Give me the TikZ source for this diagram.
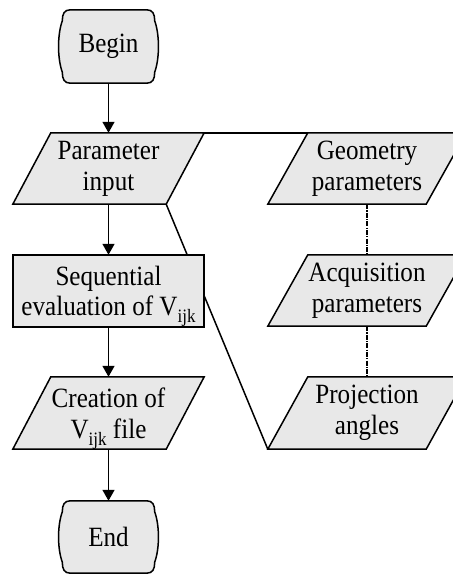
\documentclass[tikz,border=0pt]{standalone}
\usepackage{fontspec}
\setmainfont[FakeStretch=0.9]{Liberation Serif}
\usetikzlibrary{arrows.meta,calc}
\pgfdeclarelayer{lines}
\pgfdeclarelayer{shapes}
\pgfsetlayers{lines,shapes,main}
\definecolor{boxfill}{RGB}{232,232,232}
\tikzset{
  every node/.style={font=\fontsize{28}{31}\selectfont, inner sep=0pt, align=center},
  outline/.style={draw=black, line width=1.5bp, fill=boxfill},
  conn/.style={line width=1.5bp},
  arr/.style={conn, -{Triangle[width=12bp,length=11bp]}},
  dotline/.style={line width=2.2bp, dash pattern=on 5bp off 1.2bp on 1.2bp off 1.2bp},
}
\newcommand\subidx[1]{\smash{\raisebox{-7bp}{\fontsize{19}{19}\selectfont #1}}}
\newcommand\parashape[2]{%
  \path[outline] ($(#2.north west)+(#1,0)$) -- (#2.north east) -- ($(#2.south east)-(#1,0)$) -- (#2.south west) -- cycle;}
\newcommand\termshape[1]{%
  \path[outline] ($(#1.north west)+(12,0)$) -- ($(#1.north east)+(-12,0)$)
    .. controls ($(#1.north east)+(-6,0)$) and ($(#1.north east)+(-4,4)$) .. ($(#1.north east)+(-4,11)$)
    .. controls ($(#1.north east)+(1,25)$) and ($(#1.south east)+(1,-25)$) .. ($(#1.south east)+(-4,-11)$)
    .. controls ($(#1.south east)+(-4,-4)$) and ($(#1.south east)+(-6,0)$) .. ($(#1.south east)+(-12,0)$)
    -- ($(#1.south west)+(12,0)$)
    .. controls ($(#1.south west)+(6,0)$) and ($(#1.south west)+(4,-4)$) .. ($(#1.south west)+(4,-11)$)
    .. controls ($(#1.south west)+(-1,-25)$) and ($(#1.north west)+(-1,25)$) .. ($(#1.north west)+(4,11)$)
    .. controls ($(#1.north west)+(4,4)$) and ($(#1.north west)+(6,0)$) .. ($(#1.north west)+(12,0)$) -- cycle;}
\begin{document}
\begin{tikzpicture}[x=1bp,y=-1bp]
\useasboundingbox (0,0) rectangle (453,574);
\clip (0,0) rectangle (453,574);
% nodes
\node[minimum width=100bp, minimum height=73bp] (begin) at (108.5,46.5) {Begin};
\node[minimum width=191bp, minimum height=71bp] (pin) at (108.5,168.5) {Parameter\\input};
\node[minimum width=191bp, minimum height=72bp] (seq) at (108.5,291) {Sequential\\evaluation of V\subidx{ijk}};
\node[minimum width=191bp, minimum height=72bp] (cre) at (108.5,413) {Creation of\\V\subidx{ijk} file};
\node[minimum width=100bp, minimum height=72bp] (end) at (108.5,537) {End};
\node[minimum width=198bp, minimum height=71bp] (geo) at (367,168.5) {Geometry\\parameters};
\node[minimum width=198bp, minimum height=71bp] (acq) at (367,290.5) {Acquisition\\parameters};
\node[minimum width=198bp, minimum height=72bp] (proj) at (367,413) {Projection\\angles};
% shapes
\begin{pgfonlayer}{shapes}
  \termshape{begin}
  \termshape{end}
  \parashape{38}{pin}
  \path[outline] (seq.north west) rectangle (seq.south east);
  \parashape{38}{cre}
  \parashape{40}{geo}
  \parashape{40}{acq}
  \parashape{40}{proj}
\end{pgfonlayer}
% connectors
\begin{pgfonlayer}{lines}
  \draw[conn] (pin.north east) -- ($(geo.north west)+(40,0)$);
  \draw[conn] ($(pin.south east)-(38,0)$) -- (proj.south west);
\end{pgfonlayer}
\draw[arr] (begin.south) -- (pin.north);
\draw[arr] (pin.south) -- (seq.north);
\draw[arr] (seq.south) -- (cre.north);
\draw[arr] (cre.south) -- (end.north);
\draw[dotline] (geo.south) -- (acq.north);
\draw[dotline] (acq.south) -- (proj.north);
\end{tikzpicture}
\end{document}
